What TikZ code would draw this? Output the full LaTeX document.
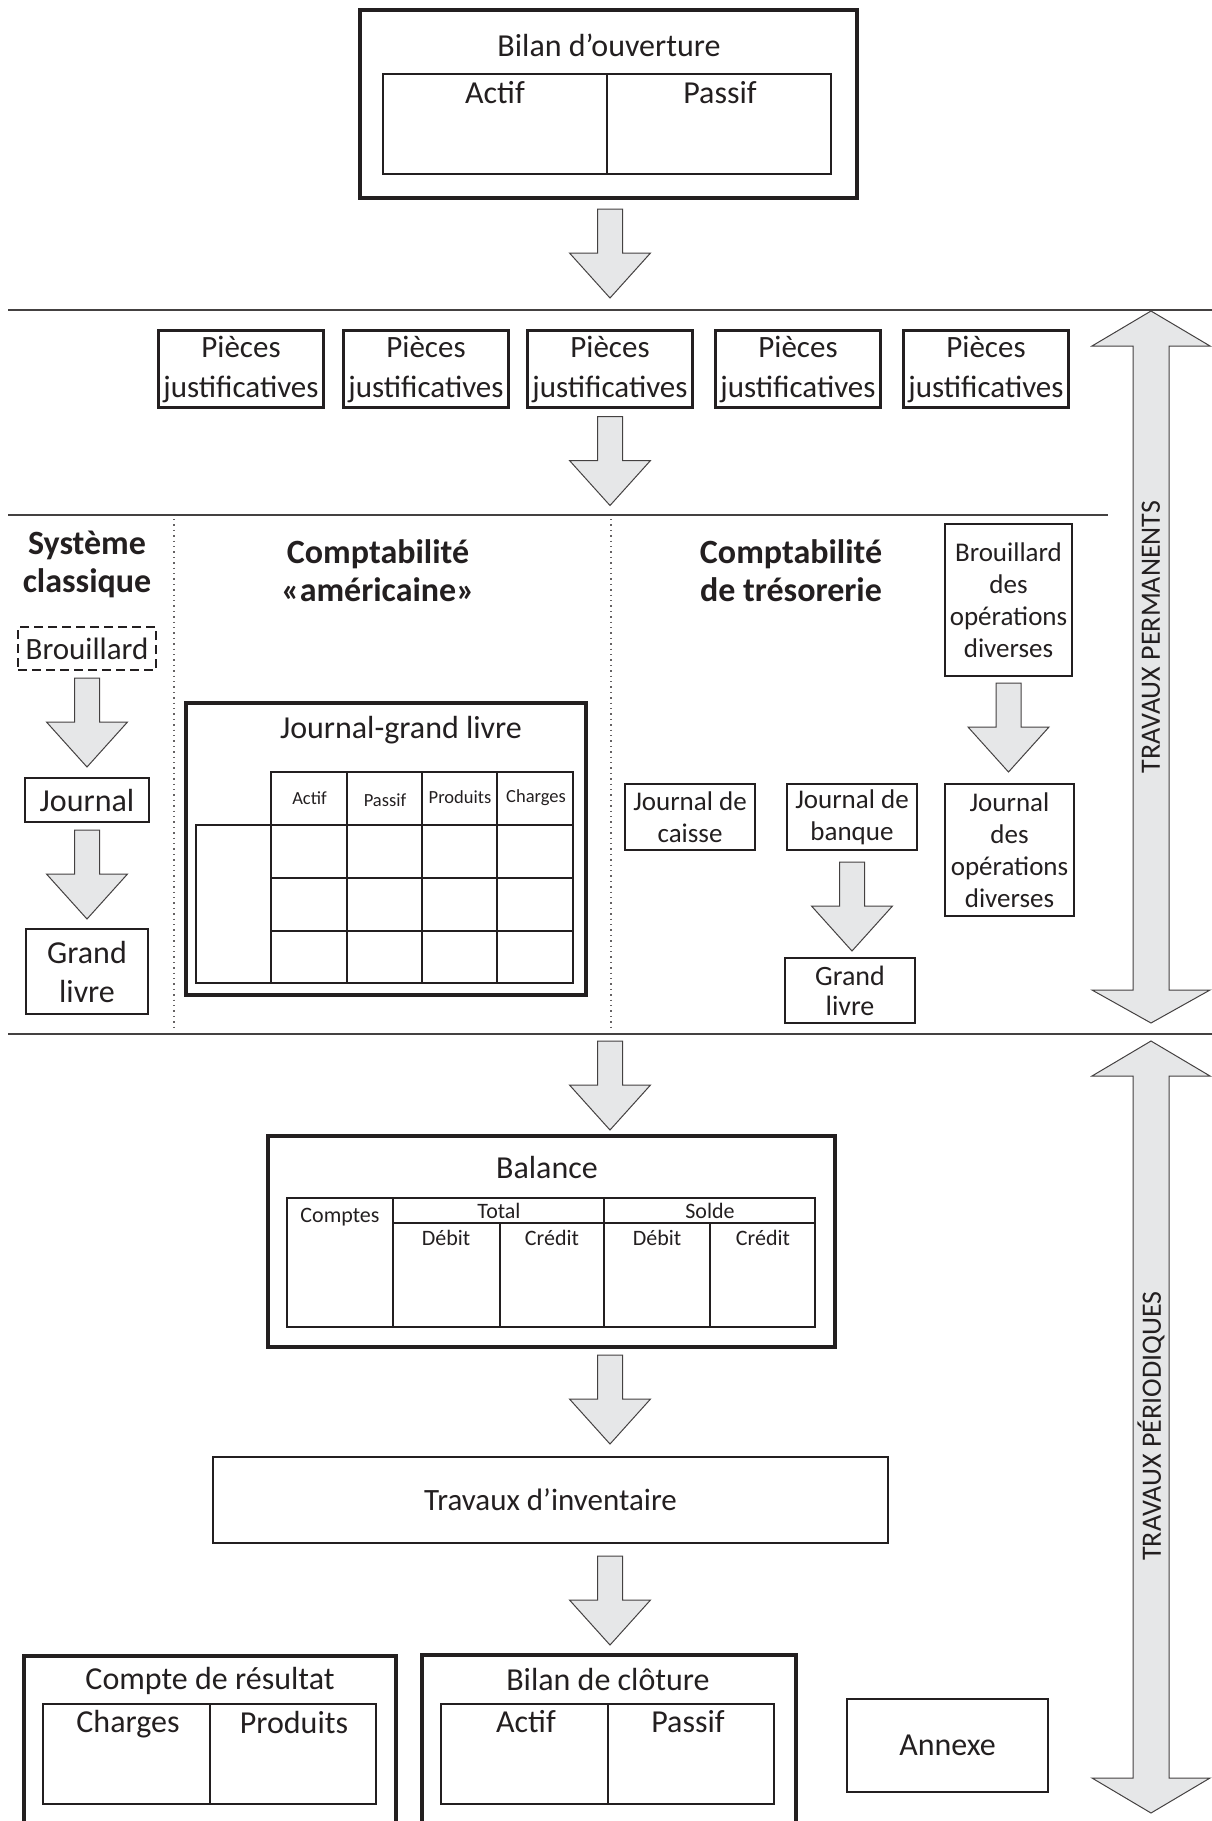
\documentclass[tikz,border=0pt]{standalone}
\usepackage{fontspec}
\setmainfont{Carlito}
\usetikzlibrary{calc}
\definecolor{ink}{HTML}{231F20}
\definecolor{arrowgrey}{HTML}{E6E7E8}
\newcommand\fsz[2]{\fontsize{#1}{#2}\selectfont}

\begin{document}
\begin{tikzpicture}[x=1pt,y=-1pt,
  every node/.style={text=ink, inner sep=0pt, outer sep=0pt},
  heavy/.style={draw=ink, line width=4},
  plain/.style={draw=ink, line width=2.2},
  grid/.style={draw=ink, line width=2.6},
  thingrid/.style={draw=ink, line width=1.8},
  rule/.style={draw=ink!85, line width=1.3},
  sep/.style={draw=ink!70, line width=1.4, dash pattern=on 1.4pt off 4pt},
  lbl/.style={font=\fsz{31}{38}, align=center},
  mid/.style={font=\fsz{27}{32}, align=center},
  small/.style={font=\fsz{18.5}{22}},
  tab/.style={font=\fsz{22}{26}},
  head/.style={font=\bfseries\fsz{34}{38}, align=center},
  side/.style={font=\fsz{28}{30}, rotate=90},
  blockfill/.style={fill=arrowgrey, draw=ink!85, line width=1, line join=miter},
  pics/flowdown/.style={code={
    \draw[blockfill] (-12.5,0) -- (12.5,0) -- (12.5,44) -- (40.5,44) -- (0,89)
      -- (-40.5,44) -- (-12.5,44) -- cycle;}},
]
\useasboundingbox (0,0) rectangle (1212,1821);
\clip (0,0) rectangle (1212,1821);

% ---------- section rules ----------
\draw[rule] (8,310) -- (1212,310);
\draw[rule] (8,515) -- (1108,515);
\draw[rule] (8,1034) -- (1212,1034);
\draw[sep] (174,519) -- (174,1031);
\draw[sep] (611,519) -- (611,1031);

% ---------- opening balance sheet ----------
\node[heavy, minimum width=497, minimum height=188] (bilanO) at (608.5,104) {};
\node[font=\fsz{32}{36}] (bilanOt) at (609,45) {Bilan d’ouverture};
\node[grid, minimum width=448, minimum height=100] (bilanOtab) at (607,124) {};
\draw[thingrid] (bilanOtab.north) -- (bilanOtab.south);
\node[font=\fsz{32}{36}] (oactif) at (495,93) {Actif};
\node[font=\fsz{32}{36}] (opassif) at (720,93) {Passif};

\pic at ($(bilanO.south)+(1.5,11)$) {flowdown};

% ---------- supporting documents ----------
\foreach \i/\x in {1/241,2/426,3/610,4/798,5/986}{
  \node[plain, lbl, font=\fsz{31}{40}, minimum width=165, minimum height=77]
    (piece\i) at (\x,369) {Pièces\\justificatives};
}
\pic at ($(piece3.south)+(0,9)$) {flowdown};

% ---------- classical system ----------
\node[head] (sys) at (87,564) {Système\\classique};
\node[draw=ink, line width=2.4, dash pattern=on 9pt off 5pt, font=\fsz{31}{36},
      minimum width=138, minimum height=43] (brouillard) at (87,648.5) {Brouillard};
\pic at ($(brouillard.south)+(0,8)$) {flowdown};
\node[plain, font=\fsz{32}{36}, minimum width=124, minimum height=44] (journal) at (87,800) {Journal};
\pic at ($(journal.south)+(0,8)$) {flowdown};
\node[plain, font=\fsz{32}{39}, align=center, minimum width=122, minimum height=85]
  (glivre) at (87,971.5) {Grand\\livre};

% ---------- "american" bookkeeping ----------
\node[head] (us) at (378,571) {Comptabilité\\«américaine»};
\node[heavy, minimum width=400, minimum height=292] (jgl) at (386,849) {};
\node[font=\fsz{32}{36}] (jglt) at (401,730) {Journal-grand livre};
\draw[grid] (271,772) rectangle (573,825);
\draw[grid] (196,825) rectangle (573,983);
\foreach \x in {347,422,497} \draw[grid] (\x,772) -- (\x,983);
\draw[grid] (271,825) -- (271,983);
\foreach \y in {878,931} \draw[grid] (271,\y) -- (573,\y);
\node[small] (jact) at (309.5,798) {Actif};
\node[small] (jpas) at (385,800) {Passif};
\node[small] (jpro) at (460,797) {Produits};
\node[small] (jcha) at (536,798) {Charges};

% ---------- cash-based bookkeeping ----------
\node[head] (treso) at (791,571) {Comptabilité\\de trésorerie};
\node[plain, mid, minimum width=127, minimum height=152] (brod) at (1008.5,600)
  {Brouillard\\des\\opérations\\diverses};
\pic at ($(brod.south)+(0,7)$) {flowdown};
\node[plain, mid, minimum width=129, minimum height=132] (jod) at (1009.5,850)
  {Journal\\des\\opérations\\diverses};
\node[plain, mid, minimum width=130, minimum height=66] (caisse) at (690,817)
  {Journal de\\caisse};
\node[plain, mid, minimum width=130, minimum height=66] (banque) at (852,817)
  {Journal de\\banque};
\pic at ($(banque.south)+(0,12)$) {flowdown};
\node[plain, font=\fsz{28}{30}, align=center, minimum width=130, minimum height=65]
  (glivret) at (850,990.5) {Grand\\livre};

% ---------- side arrows ----------
\draw[blockfill] (1151,311) -- (1210,346) -- (1169,346) -- (1169,990) -- (1210,990)
  -- (1151,1023) -- (1092,990) -- (1133,990) -- (1133,346) -- (1092,346) -- cycle;
\node[side] (perm) at (1151,637) {TRAVAUX PERMANENTS};
\draw[blockfill] (1151,1041) -- (1210,1076) -- (1169,1076) -- (1169,1778) -- (1210,1778)
  -- (1151,1813) -- (1092,1778) -- (1133,1778) -- (1133,1076) -- (1092,1076) -- cycle;
\node[side] (peri) at (1151,1426) {TRAVAUX PÉRIODIQUES};

% ---------- trial balance ----------
\pic at (610,1041) {flowdown};
\node[heavy, minimum width=567, minimum height=211] (balance) at (551.5,1241.5) {};
\node[font=\fsz{32}{36}] (balt) at (547,1167) {Balance};
\draw[grid] (287,1198) rectangle (815,1327);
\draw[grid] (393,1198) -- (393,1327);
\draw[grid] (604,1198) -- (604,1327);
\draw[grid] (393,1223) -- (815,1223);
\draw[thingrid] (500,1223) -- (500,1327);
\draw[thingrid] (710,1223) -- (710,1327);
\node[tab] (comptes) at (340,1217) {Comptes};
\node[tab] (total) at (499,1211) {Total};
\node[tab] (solde) at (710,1211) {Solde};
\node[tab] (d1) at (446,1238) {Débit};
\node[tab] (c1) at (552,1238) {Crédit};
\node[tab] (d2) at (657,1238) {Débit};
\node[tab] (c2) at (763,1238) {Crédit};

\pic at ($(balance.south)+(58.5,8)$) {flowdown};

% ---------- inventory ----------
\node[plain, font=\fsz{31}{36}, minimum width=675, minimum height=86] (inv) at (550.5,1500)
  {Travaux d’inventaire};
\pic at ($(inv.south)+(59.5,13)$) {flowdown};

% ---------- year-end statements ----------
\node[heavy, minimum width=372, minimum height=204] (cdr) at (210,1758) {};
\node[font=\fsz{32}{36}] (cdrt) at (210,1681) {Compte de résultat};
\draw[grid] (43,1704) rectangle (376,1804);
\draw[thingrid] (210,1704) -- (210,1804);
\node[font=\fsz{32}{36}] (cch) at (128,1724) {Charges};
\node[font=\fsz{32}{36}] (cpr) at (294,1722) {Produits};

\node[heavy, minimum width=374, minimum height=205] (bdc) at (609,1757.5) {};
\node[font=\fsz{32}{36}] (bdct) at (608,1679) {Bilan de clôture};
\draw[grid] (441,1704) rectangle (774,1804);
\draw[thingrid] (608,1704) -- (608,1804);
\node[font=\fsz{32}{36}] (cact) at (526,1722) {Actif};
\node[font=\fsz{32}{36}] (cpas) at (688,1722) {Passif};

\node[plain, font=\fsz{32}{36}, minimum width=201, minimum height=93] (annexe) at (947.5,1745.5)
  {Annexe};
\end{tikzpicture}
\end{document}
